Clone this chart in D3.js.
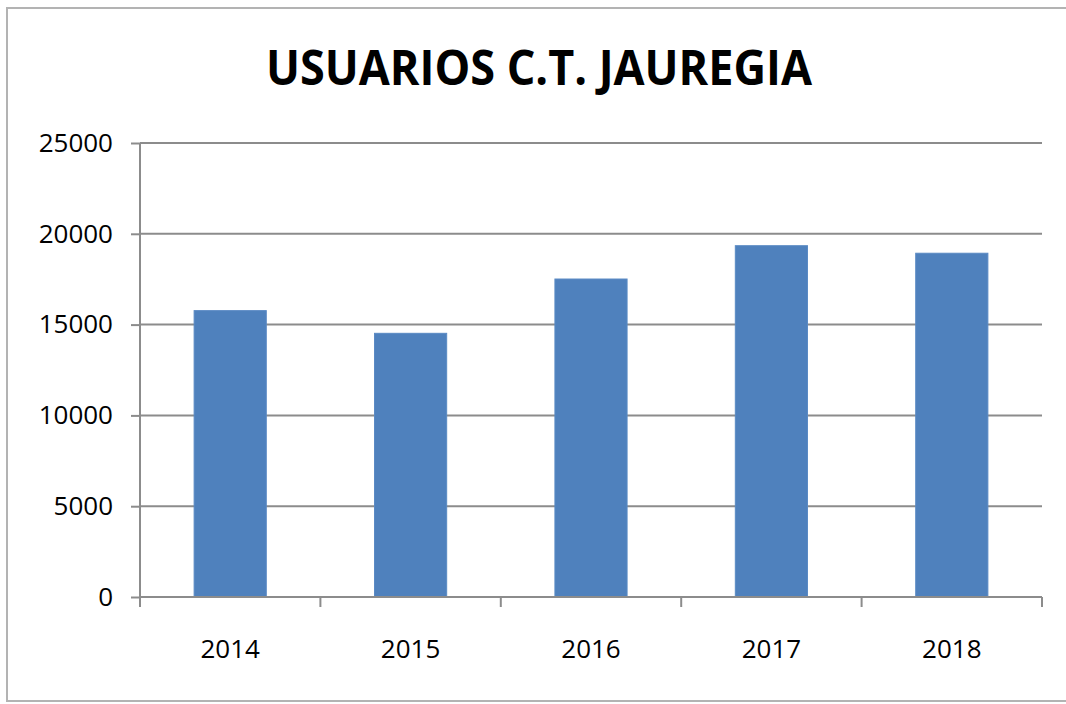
<!DOCTYPE html>
<html>
<head>
<meta charset="utf-8">
<script src="https://cdn.jsdelivr.net/npm/d3@7"></script>
<style>
  html, body { margin: 0; padding: 0; background: #fff; }
  svg { display: block; }
</style>
</head>
<body>
<svg id="chart" width="1066" height="704"></svg>
<script>
const title = "USUARIOS C.T. JAUREGIA";
const categories = ["2014", "2015", "2016", "2017", "2018"];
const values = [15770, 14520, 17510, 19345, 18930];
const yTicks = [0, 5000, 10000, 15000, 20000, 25000];

const svg = d3.select("#chart");
const W = 1066, H = 704;
const plot = { left: 140, right: 1042, top: 143, bottom: 597 };

// outer frame
svg.append("rect")
  .attr("x", 7).attr("y", 8)
  .attr("width", W + 10).attr("height", 693)
  .attr("fill", "#fff")
  .attr("stroke", "#b3b3b3").attr("stroke-width", 2);

// title
svg.append("text")
  .attr("x", 266).attr("y", 85)
  .attr("textLength", 546)
  .attr("lengthAdjust", "spacingAndGlyphs")
  .attr("font-family", "'Open Sans', sans-serif")
  .attr("font-weight", 700)
  .attr("font-size", 48)
  .attr("fill", "#000")
  .text(title);

const x = d3.scaleBand().domain(categories)
  .range([plot.left, plot.right]).paddingInner(0.6).paddingOuter(0.3);
const xCat = d3.scaleBand().domain(categories).range([plot.left, plot.right]);
const y = d3.scaleLinear().domain([0, 25000]).range([plot.bottom, plot.top]);

// gridlines
svg.append("g").selectAll("line").data(yTicks.filter(d => d > 0)).join("line")
  .attr("x1", plot.left).attr("x2", plot.right)
  .attr("y1", d => y(d)).attr("y2", d => y(d))
  .attr("stroke", "#8c8c8c").attr("stroke-width", 2);

// bars
svg.append("g").selectAll("rect").data(values).join("rect")
  .attr("x", (d, i) => x(categories[i]))
  .attr("width", x.bandwidth())
  .attr("y", d => y(d))
  .attr("height", d => y(0) - y(d))
  .attr("fill", "#4f81bd")
  .attr("stroke", "#5a8ac4").attr("stroke-width", 1);

// y axis
const yAxis = d3.axisLeft(y).tickValues(yTicks).tickSize(9).tickPadding(18)
  .tickFormat(d3.format("d"));
const gy = svg.append("g").attr("transform", `translate(${plot.left},0)`).call(yAxis);
gy.select(".domain").attr("stroke", "#8c8c8c").attr("stroke-width", 2)
  .attr("d", `M0,${plot.top}V${plot.bottom}`);
gy.selectAll(".tick line").attr("stroke", "#8c8c8c").attr("stroke-width", 2);
gy.selectAll(".tick text")
  .attr("font-family", "'Open Sans', sans-serif")
  .attr("font-size", 26).attr("fill", "#000");

// x axis
const xAxis = d3.axisBottom(xCat).tickSize(0).tickPadding(0);
const gx = svg.append("g").attr("transform", `translate(0,${plot.bottom})`).call(xAxis);
gx.select(".domain").attr("stroke", "#8c8c8c").attr("stroke-width", 2)
  .attr("d", `M${plot.left},0H${plot.right}`);
gx.selectAll(".tick text")
  .attr("y", 61)
  .attr("dy", 0)
  .attr("font-family", "'Open Sans', sans-serif")
  .attr("font-size", 26).attr("fill", "#000");
// category boundary ticks
const bounds = categories.map(c => xCat(c)).concat([plot.right]);
gx.append("g").selectAll("line").data(bounds).join("line")
  .attr("x1", d => d).attr("x2", d => d)
  .attr("y1", 0).attr("y2", 10)
  .attr("stroke", "#8c8c8c").attr("stroke-width", 2);
</script>
</body>
</html>
